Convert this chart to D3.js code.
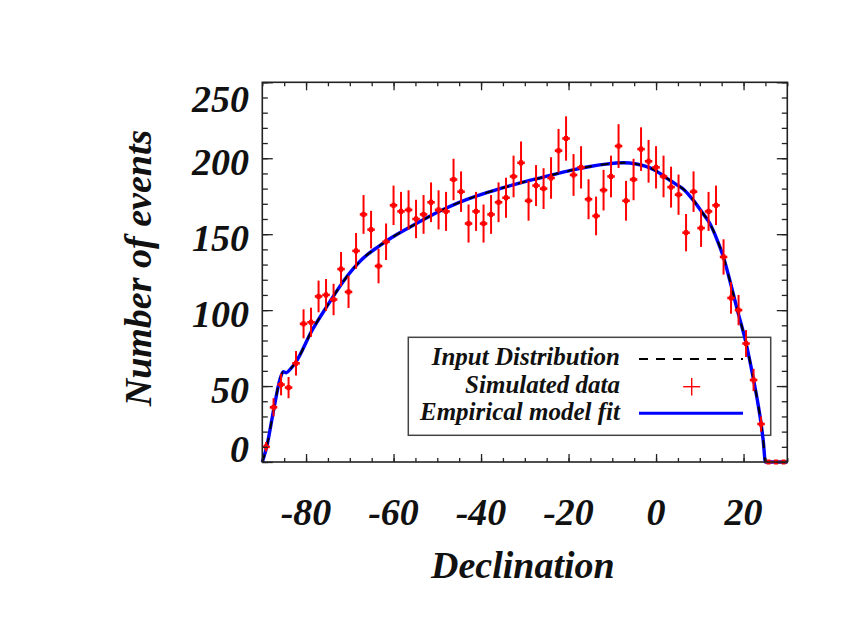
<!DOCTYPE html>
<html>
<head>
<meta charset="utf-8">
<script src="https://cdn.jsdelivr.net/npm/d3@7/dist/d3.min.js"></script>
<style>
  html, body { margin: 0; padding: 0; background: #fff; }
  svg text { font-family: "Liberation Serif", "Times New Roman", serif; font-weight: bold; font-style: italic; fill: #111; }
</style>
</head>
<body>
<svg id="chart" width="866" height="629"></svg>
<script>
// ---- data ----
const binCenters = [-89.14, -87.43, -85.71, -84.00, -82.29, -80.57, -78.86, -77.14, -75.43, -73.71,
  -72.00, -70.29, -68.57, -66.86, -65.14, -63.43, -61.71, -60.00, -58.29, -56.57,
  -54.86, -53.14, -51.43, -49.71, -48.00, -46.29, -44.57, -42.86, -41.14, -39.43,
  -37.71, -36.00, -34.29, -32.57, -30.86, -29.14, -27.43, -25.71, -24.00, -22.29,
  -20.57, -18.86, -17.14, -15.43, -13.71, -12.00, -10.29, -8.57, -6.86, -5.14,
  -3.43, -1.71, 0.00, 1.71, 3.43, 5.14, 6.86, 8.57, 10.29, 12.00,
  13.71, 15.43, 17.14, 18.86, 20.57, 22.29, 24.00, 25.71, 27.43, 29.14];
const binHalfWidth = 0.857;
const simulatedCounts = [10, 36, 51, 49, 65, 91, 92, 109, 110, 107,
  127, 112, 139, 163, 153, 129, 145, 169, 165, 166,
  160, 163, 171, 166, 165, 186, 178, 157, 165, 157,
  163, 171, 174, 188, 197, 172, 182, 180, 187, 205,
  213, 189, 194, 173, 162, 179, 188, 208, 172, 186,
  206, 198, 194, 188, 181, 176, 151, 178, 154, 165,
  169, 135, 108, 100, 78, 54, 25, 0, 0, 0];
// Poisson errors (sqrt N), as in the reference error bars
const simulatedErrors = simulatedCounts.map(v => Math.sqrt(v));

const inputDecl = [-90, -89, -87.3, -86, -85.2, -84.5, -83.5, -82.5, -78.6, -74.8, -71, -67.2, -63.4, -60.4, -56.5,
  -52.7, -48.9, -45.1, -41.3, -37.5, -33.7, -29.5, -26, -23, -19.5, -15.4, -11.5, -7.5, -4.5, -2.5, -0.5,
  1, 2.5, 4.5, 6.5, 8.5, 10.5, 12.3, 14, 15.4, 17, 18.5, 20.6, 22.3, 23.2, 24, 24.5, 25, 30];
const inputCounts = [0, 10, 36, 54, 59.5, 58.8, 61.5, 65, 86.8, 104.4, 120.8, 133.5, 142, 147.8, 154.3,
  160.3, 165.9, 170.8, 174.9, 178.4, 181.6, 184.9, 187.4, 189.6, 192, 194.4, 196.1, 197, 196.2, 194.8, 192.5,
  189.8, 186.8, 183, 179, 172.4, 164.5, 157, 146, 135, 118, 101, 78, 54, 40, 25.4, 14, 0, 0];
const fitDecl = inputDecl.slice();
const fitCounts = [0, 10, 36, 54, 59.5, 58.8, 61.5, 65, 86.8, 104.4, 120.8, 133.5, 142, 147.8, 154.3,
  160.3, 165.9, 170.8, 174.9, 178.4, 181.6, 184.9, 187.4, 189.6, 192, 194.4, 196.1, 197, 196.2, 194.8, 192.5,
  189.8, 186.8, 183, 179, 172.4, 164.5, 157, 146, 135, 118, 101, 78, 54, 40, 25.4, 14, 0, 0];

const xTicks = [-80, -60, -40, -20, 0, 20];
const xMinorTicks = d3.range(-90, 30.01, 5);
const yTicks = [0, 50, 100, 150, 200, 250];
const yMinorTicks = d3.range(0, 250.01, 10);
const legendLabels = ["Input Distribution", "Simulated data", "Empirical model fit"];
const xTitle = "Declination";
const yTitle = "Number of events";

// ---- layout ----
const L = 262.3, R = 787.3, T = 82.3, B = 462;
const svg = d3.select("#chart");
const x = d3.scaleLinear().domain([-90, 30]).range([L, R]);
const y = d3.scaleLinear().domain([0, 250]).range([B, T]);
const axisColor = "#222";
const red = "#ff0000";

// legend (drawn first so data lie on top)
const lg = svg.append("g");
lg.append("rect").attr("x", 408.3).attr("y", 337.3).attr("width", 362.4).attr("height", 98)
  .attr("fill", "none").attr("stroke", "#444").attr("stroke-width", 1.5);
const legY = [365, 393, 420];
legendLabels.forEach((t, i) => {
  lg.append("text").attr("x", 620).attr("y", legY[i]).attr("text-anchor", "end")
    .attr("font-size", 25).text(t);
});
lg.append("line").attr("x1", 639).attr("x2", 743).attr("y1", 359).attr("y2", 359)
  .attr("stroke", "#000").attr("stroke-width", 2).attr("stroke-dasharray", "9,8");
lg.append("line").attr("x1", 683.2).attr("x2", 700.2).attr("y1", 386.7).attr("y2", 386.7)
  .attr("stroke", red).attr("stroke-width", 1.4);
lg.append("line").attr("x1", 691.7).attr("x2", 691.7).attr("y1", 378).attr("y2", 395.4)
  .attr("stroke", red).attr("stroke-width", 1.4);
lg.append("line").attr("x1", 639).attr("x2", 743).attr("y1", 413.3).attr("y2", 413.3)
  .attr("stroke", "#0000ff").attr("stroke-width", 3);

// curves
const line = d3.line().x(d => x(d[0])).y(d => y(d[1])).curve(d3.curveMonotoneX);
const fitData = fitDecl.map((d, i) => [d, fitCounts[i]]);
const inputData = inputDecl.map((d, i) => [d, inputCounts[i]]);
svg.append("path").datum(fitData).attr("d", line).attr("fill", "none")
  .attr("stroke", "#0000ff").attr("stroke-width", 3.4).attr("stroke-linejoin", "round");
svg.append("path").datum(inputData).attr("d", line).attr("fill", "none")
  .attr("stroke", "#000").attr("stroke-width", 2).attr("stroke-dasharray", "8,9");

// data points with error bars
const pts = svg.append("g").attr("stroke", red);
binCenters.forEach((c, i) => {
  const v = simulatedCounts[i], e = simulatedErrors[i];
  pts.append("line").attr("x1", x(c)).attr("x2", x(c)).attr("y1", y(v - e)).attr("y2", y(v + e))
    .attr("stroke-width", 2);
  pts.append("line").attr("x1", x(c - binHalfWidth)).attr("x2", x(c + binHalfWidth))
    .attr("y1", y(v)).attr("y2", y(v)).attr("stroke-width", 2.6);
  pts.append("rect").attr("x", x(c) - 2).attr("y", y(v) - 2.5).attr("width", 4).attr("height", 5)
    .attr("fill", red).attr("stroke", "none");
});

// axes frame + ticks
const frame = svg.append("g");
frame.append("rect").attr("x", L).attr("y", T).attr("width", R - L).attr("height", B - T)
  .attr("fill", "none").attr("stroke", axisColor).attr("stroke-width", 1.6);

function styleAxis(g) {
  g.select(".domain").remove();
  g.selectAll(".tick line").attr("stroke", axisColor).attr("stroke-width", 1.3);
  g.selectAll(".tick text").remove();
}
svg.append("g").attr("transform", `translate(0,${B})`)
  .call(d3.axisBottom(x).tickValues(xMinorTicks).tickSize(-4)).call(styleAxis);
svg.append("g").attr("transform", `translate(0,${B})`)
  .call(d3.axisBottom(x).tickValues(xTicks).tickSize(-8)).call(styleAxis);
svg.append("g").attr("transform", `translate(0,${T})`)
  .call(d3.axisTop(x).tickValues(xMinorTicks).tickSize(-4)).call(styleAxis);
svg.append("g").attr("transform", `translate(0,${T})`)
  .call(d3.axisTop(x).tickValues(xTicks).tickSize(-8)).call(styleAxis);
svg.append("g").attr("transform", `translate(${L},0)`)
  .call(d3.axisLeft(y).tickValues(yMinorTicks).tickSize(-5.5)).call(styleAxis);
svg.append("g").attr("transform", `translate(${L},0)`)
  .call(d3.axisLeft(y).tickValues(yTicks).tickSize(-10.5)).call(styleAxis);
svg.append("g").attr("transform", `translate(${R},0)`)
  .call(d3.axisRight(y).tickValues(yMinorTicks).tickSize(-5.5)).call(styleAxis);
svg.append("g").attr("transform", `translate(${R},0)`)
  .call(d3.axisRight(y).tickValues(yTicks).tickSize(-10.5)).call(styleAxis);

// tick labels
const labelSize = 38;
svg.append("g").selectAll("text").data(xTicks).join("text")
  .attr("x", d => x(d)).attr("y", 525).attr("text-anchor", "middle")
  .attr("font-size", labelSize).text(d => String(d));
svg.append("g").selectAll("text").data(yTicks).join("text")
  .attr("x", 249).attr("y", d => Math.max(T + 29.5, Math.min(B, y(d) + 17)))
  .attr("text-anchor", "end").attr("font-size", labelSize).text(d => String(d));

// titles
svg.append("text").attr("x", (L + R) / 2 - 2).attr("y", 578).attr("text-anchor", "middle")
  .attr("font-size", 38).text(xTitle);
svg.append("text").attr("transform", `translate(151,268) rotate(-90)`)
  .attr("text-anchor", "middle").attr("font-size", 38).text(yTitle);
</script>
</body>
</html>
